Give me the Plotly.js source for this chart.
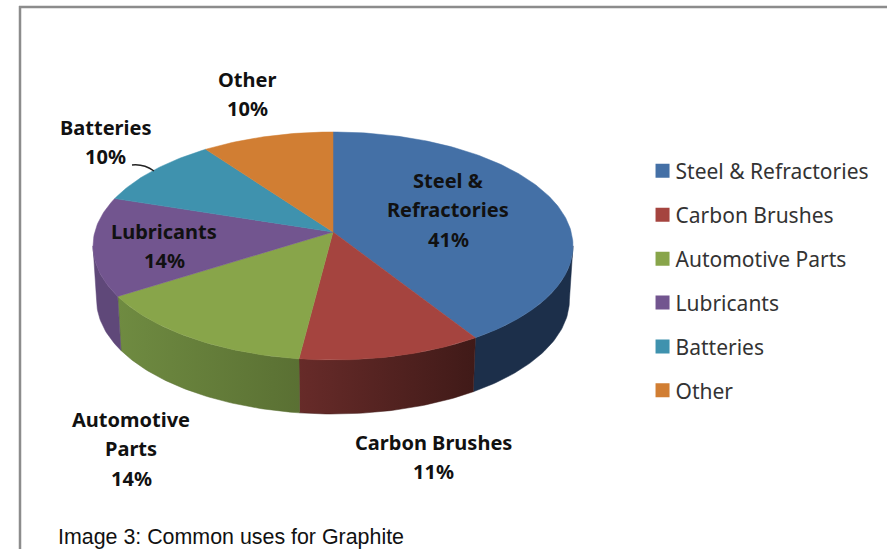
<!DOCTYPE html>
<html><head><meta charset="utf-8">
<script src="https://cdn.plot.ly/plotly-3.0.1.min.js"></script>
<style>html,body{margin:0;padding:0;background:#fff}#chart{width:887px;height:549px}</style>
</head><body><div id="chart"></div>
<script>
var categories = ["Steel & Refractories","Carbon Brushes","Automotive Parts","Lubricants","Batteries","Other"];
var shares = [41,11,14,14,10,10];
var topColors = ["#4470A6","#A5443F","#88A54A","#72558F","#3F92AE","#D17E33"];
var wallLeft  = ["#1C2F4A","#672B29","#6F8B41","#5F4879","#2C6A80","#9A5C22"];
var wallRight = ["#1C2F4A","#401A18","#5A7033","#5F4879","#2C6A80","#9A5C22"];
var labelLines = [["Steel &","Refractories","41%"],["Carbon Brushes","11%"],["Automotive","Parts","14%"],["Lubricants","14%"],["Batteries","10%"],["Other","10%"]];

// pixel-like plotting space and pie projection
var hub = {x:333, y:232}, A = 238.2, B = 112.3, K = 0.1228, DEPTH = 54, SHRINK = 0.985;
function project(deg){
  var t = deg*Math.PI/180, X = Math.sin(t), Y = -Math.cos(t), d = 1-K*Y;
  return {x: hub.x + A*X/d, y: hub.y + B*Y/d};
}
function lower(p){ return {x: hub.x + (p.x-hub.x)*SHRINK, y: p.y + DEPTH}; }
var SIL_R = 97, SIL_L = 263;

var traces = [], start = 0, ranges = [];
shares.forEach(function(v){ ranges.push([start, start + v*3.6]); start += v*3.6; });

// side walls
ranges.forEach(function(r,i){
  var a = Math.max(r[0],SIL_R), b = Math.min(r[1],SIL_L);
  if (b <= a) return;
  var up = [], lo = [];
  for (var d=a; d<b; d+=1){ up.push(project(d)); }
  up.push(project(b));
  lo = up.map(lower).reverse();
  var all = up.concat(lo); all.push(up[0]);
  traces.push({type:"scatter",mode:"lines",x:all.map(function(p){return p.x}),y:all.map(function(p){return p.y}),
    fill:"toself",line:{width:0.5,color:wallRight[i]},fillcolor:wallRight[i],
    fillgradient:{type:"horizontal",colorscale:[[0,wallLeft[i]],[1,wallRight[i]]]},
    showlegend:false,hoverinfo:"skip"});
});
// top faces
ranges.forEach(function(r,i){
  var pts = [{x:hub.x,y:hub.y}];
  for (var d=r[0]; d<r[1]; d+=1){ pts.push(project(d)); }
  pts.push(project(r[1])); pts.push({x:hub.x,y:hub.y});
  traces.push({type:"scatter",mode:"lines",x:pts.map(function(p){return p.x}),y:pts.map(function(p){return p.y}),
    fill:"toself",fillcolor:topColors[i],line:{width:0.5,color:topColors[i]},showlegend:false,hoverinfo:"skip",name:categories[i]});
});
// legend entries
categories.forEach(function(c,i){
  traces.push({type:"scatter",mode:"markers",x:[null],y:[null],name:c,legendgroup:c,
    marker:{symbol:"square",size:14,color:topColors[i]},hoverinfo:"skip"});
});

var labelFont = {family:"'Noto Sans', 'DejaVu Sans', sans-serif",size:20,color:"#111111"};
var labelPos = [[448,180],[433,442],[131,419],[164,231],[105,127],[247,79]];
var LINE_GAP = 29.7;
var annotations = [];
labelLines.forEach(function(lines,i){
  lines.forEach(function(t,j){
    annotations.push({xref:"x",yref:"y",x:labelPos[i][0],y:labelPos[i][1]+j*LINE_GAP,text:"<b>"+t+"</b>",showarrow:false,font:labelFont,
          align:"center",xanchor:"center",yanchor:"middle"});
  });
});
annotations.push({xref:"x",yref:"y",x:56,y:537,text:"Image 3: Common uses for Graphite",showarrow:false,
  font:{family:"'Liberation Sans', Arial, sans-serif",size:21.4,color:"#111111"},xanchor:"left",yanchor:"middle"});

var layout = {
  width:887,height:549,margin:{l:0,r:0,t:0,b:0,pad:0},paper_bgcolor:"#ffffff",plot_bgcolor:"#ffffff",
  xaxis:{range:[0,887],visible:false,fixedrange:true},
  yaxis:{range:[549,0],visible:false,fixedrange:true},
  showlegend:true,
  legend:{x:0.7165,y:0.7255,xanchor:"left",yanchor:"top",tracegroupgap:13.6,bgcolor:"rgba(0,0,0,0)",
    font:{family:"'Noto Sans', 'DejaVu Sans', sans-serif",size:21,color:"#333333"}},
  annotations:annotations,
  shapes:[
    {type:"line",xref:"x",yref:"y",x0:20,x1:20,y0:6,y1:549,line:{color:"#8C8C8C",width:2.5},layer:"below"},
    {type:"line",xref:"x",yref:"y",x0:19,x1:887,y0:7,y1:7,line:{color:"#8C8C8C",width:2.5},layer:"below"},
    {type:"path",xref:"x",yref:"y",path:"M132,165 C141,164 147,166 154,171",line:{color:"#222222",width:1.5},layer:"above"}
  ]
};
Plotly.newPlot("chart",traces,layout,{displayModeBar:false,staticPlot:true}).then(function(){
  // tighten the gap between legend swatches and their text
  document.querySelectorAll(".legend .legendsymbols").forEach(function(g){ g.setAttribute("transform","translate(7,0)"); });
});
</script></body></html>
